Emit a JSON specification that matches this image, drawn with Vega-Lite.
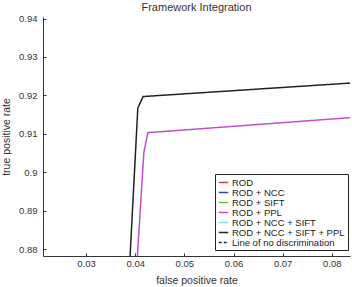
{
  "$schema": "https://vega.github.io/schema/vega-lite/v6.json",
  "width": 307,
  "height": 239,
  "autosize": {"type": "none"},
  "padding": {"left": 43, "top": 17, "right": 2, "bottom": 31},
  "background": "white",
  "title": {"text": "Framework Integration", "fontSize": 11, "font": "Liberation Sans", "fontWeight": "normal", "color": "#333333", "offset": 4, "dy": 3, "anchor": "middle"},
  "config": {
    "view": {"stroke": null},
    "font": "Liberation Sans"
  },
  "data": {"values": [
    {"series": "ROD + PPL", "fpr": 0.04045, "tpr": 0.8782, "o": 1},
    {"series": "ROD + PPL", "fpr": 0.04175, "tpr": 0.9051, "o": 2},
    {"series": "ROD + PPL", "fpr": 0.04257, "tpr": 0.9103, "o": 3},
    {"series": "ROD + PPL", "fpr": 0.0837, "tpr": 0.9142, "o": 4},
    {"series": "ROD + NCC + SIFT + PPL", "fpr": 0.03896, "tpr": 0.8782, "o": 1},
    {"series": "ROD + NCC + SIFT + PPL", "fpr": 0.04053, "tpr": 0.9167, "o": 2},
    {"series": "ROD + NCC + SIFT + PPL", "fpr": 0.04161, "tpr": 0.9197, "o": 3},
    {"series": "ROD + NCC + SIFT + PPL", "fpr": 0.0837, "tpr": 0.9232, "o": 4}
  ]},
  "mark": {"type": "line", "clip": true, "strokeWidth": 1.5},
  "encoding": {
    "x": {"field": "fpr", "type": "quantitative", "scale": {"domain": [0.02124, 0.0837], "nice": false, "zero": false},
      "axis": {"values": [0.03, 0.04, 0.05, 0.06, 0.07, 0.08], "format": ".2~f", "title": "false positive rate", "grid": false,
        "tickSize": -3, "tickColor": "#333333", "domainColor": "#333333", "labelFontSize": 9.5, "labelColor": "#333333", "titleFontSize": 10.5, "titleFontWeight": "normal", "titleColor": "#333333", "labelPadding": 5, "titlePadding": 8}},
    "y": {"field": "tpr", "type": "quantitative", "scale": {"domain": [0.8782, 0.9404], "nice": false, "zero": false},
      "axis": {"values": [0.88, 0.89, 0.9, 0.91, 0.92, 0.93, 0.94], "format": ".2~f", "title": "true positive rate", "grid": false,
        "tickSize": -3, "tickColor": "#333333", "domainColor": "#333333", "labelFontSize": 9.5, "labelColor": "#333333", "titleFontSize": 10.5, "titleFontWeight": "normal", "titleColor": "#333333", "labelPadding": 9, "titlePadding": 7}},
    "order": {"field": "o"},
    "color": {"field": "series", "type": "nominal",
      "scale": {"domain": ["ROD", "ROD + NCC", "ROD + SIFT", "ROD + PPL", "ROD + NCC + SIFT", "ROD + NCC + SIFT + PPL", "Line of no discrimination"],
        "range": ["#e03a3a", "#2f45b0", "#5cc24a", "#c050c8", "#80e6d8", "#222222", "#222222"]},
      "legend": {"title": null, "orient": "none", "legendX": 172, "legendY": 157, "symbolType": "stroke", "symbolSize": 90, "symbolStrokeWidth": 1.5,
        "labelFontSize": 9.5, "labelColor": "#222222", "strokeColor": "#222222", "fillColor": "white", "padding": 3, "rowPadding": -1.7, "labelOffset": 3, "labelLimit": 200}},
    "strokeDash": {"field": "series", "type": "nominal",
      "scale": {"domain": ["ROD", "ROD + NCC", "ROD + SIFT", "ROD + PPL", "ROD + NCC + SIFT", "ROD + NCC + SIFT + PPL", "Line of no discrimination"],
        "range": [[1, 0], [1, 0], [1, 0], [1, 0], [1, 0], [1, 0], [3, 2]]},
      "legend": {"title": null, "orient": "none", "legendX": 172, "legendY": 157, "symbolType": "stroke", "symbolSize": 90, "symbolStrokeWidth": 1.5,
        "labelFontSize": 9.5, "labelColor": "#222222", "strokeColor": "#222222", "fillColor": "white", "padding": 3, "rowPadding": -1.7, "labelOffset": 3, "labelLimit": 200}}
  }
}
